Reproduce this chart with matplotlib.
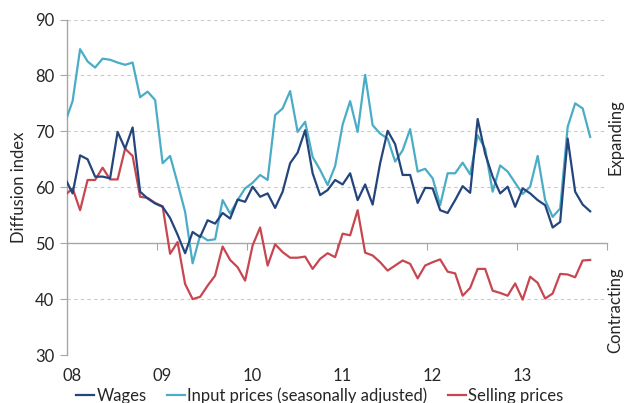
import matplotlib

matplotlib.use("Agg")

import matplotlib.pyplot as plt
import numpy as np


# monthly observations, first point late Dec 2007 / Jan 2008
START_YEAR = 2008
WAGES = [
    61.6, 58.9, 65.7, 65.0, 61.9, 61.9, 61.6, 69.9, 66.9, 70.7,
    59.2, 58.0, 57.1, 56.5, 54.5, 51.5, 48.2, 52.0, 51.1, 54.1,
    53.5, 55.4, 54.4, 57.8, 57.4, 60.1, 58.3, 58.9, 56.3, 59.2,
    64.3, 66.2, 70.2, 62.5, 58.6, 59.5, 61.3, 60.5, 62.5, 57.7,
    60.5, 56.9, 64.3, 70.1, 67.7, 62.2, 62.2, 57.2, 59.9, 59.8,
    55.9, 55.4, 57.7, 60.2, 59.0, 72.2, 66.0, 61.9, 58.9, 60.1,
    56.5, 59.8, 58.9, 57.7, 56.8, 52.8, 53.8, 68.7, 59.2, 56.9,
    55.7,
]
INPUT_PRICES = [
    71.6, 75.4, 84.7, 82.5, 81.4, 83.0, 82.8, 82.3, 81.9, 82.3,
    76.1, 77.1, 75.6, 64.3, 65.6, 60.7, 55.6, 46.4, 51.4, 50.5,
    50.7, 57.7, 55.3, 57.7, 59.8, 60.8, 62.2, 61.3, 72.9, 74.1,
    77.2, 69.9, 71.7, 65.4, 63.1, 60.4, 63.8, 71.2, 75.4, 69.9,
    80.1, 71.1, 69.6, 68.7, 64.6, 66.6, 70.4, 62.8, 63.3, 61.6,
    56.8, 62.5, 62.5, 64.4, 62.3, 69.3, 66.9, 59.2, 63.9, 62.8,
    60.8, 58.8, 60.1, 65.6, 57.7, 54.7, 56.2, 70.8, 75.0, 74.1,
    69.0,
]
SELLING_PRICES = [
    58.6, 59.8, 55.9, 61.3, 61.3, 63.5, 61.4, 61.4, 66.9, 65.6,
    58.3, 58.1, 57.2, 56.6, 48.1, 50.2, 42.7, 40.0, 40.4, 42.4,
    44.2, 49.4, 47.0, 45.7, 43.3, 49.6, 52.8, 46.0, 49.8, 48.4,
    47.4, 47.4, 47.6, 45.4, 47.2, 48.2, 47.5, 51.7, 51.4, 55.9,
    48.3, 47.8, 46.6, 45.1, 46.0, 46.9, 46.3, 43.7, 46.0, 46.6,
    47.1, 44.9, 44.6, 40.6, 42.0, 45.4, 45.4, 41.5, 41.1, 40.6,
    42.8, 39.9, 44.0, 42.9, 40.1, 41.0, 44.5, 44.4, 43.9, 46.9,
    47.0,
]
YEARS = [2008, 2009, 2010, 2011, 2012, 2013]
YEAR_LABELS = ["08", "09", "10", "11", "12", "13"]
Y_TICKS = [30, 40, 50, 60, 70, 80, 90]

colors = {
    "wages": "#24457c",
    "input": "#4bacc6",
    "selling": "#c8464f",
    "grid": "#c9c9c9",
    "axis": "#a6a6a6",
    "text": "#262626",
}

plt.rcParams.update({"font.family": ["Lato", "DejaVu Sans"], "font.size": 12})

fig = plt.figure(figsize=(6.33, 4.03), dpi=100)
ax = fig.add_axes([0.1058, 0.1191, 0.8532, 0.8325])

n = len(WAGES)
x = START_YEAR + (np.arange(n) - 0.25) / 12

ax.plot(x, WAGES, color=colors["wages"], lw=1.6, label="Wages", zorder=4)
ax.plot(x, INPUT_PRICES, color=colors["input"], lw=1.6,
        label="Input prices (seasonally adjusted)", zorder=3)
ax.plot(x, SELLING_PRICES, color=colors["selling"], lw=1.6,
        label="Selling prices", zorder=3)

ax.set_xlim(2008, 2014)
ax.set_ylim(30, 90)
ax.set_yticks(Y_TICKS)
for v in Y_TICKS:
    if v != 50:
        ax.axhline(v, color=colors["grid"], lw=0.8, ls=(0, (3, 3)), zorder=1)

# x axis sits on the 50 line, labels stay at the bottom
ax.spines["bottom"].set_position(("data", 50))
ax.spines["bottom"].set_color(colors["axis"])
ax.spines["bottom"].set_linewidth(1.0)
ax.set_xticks(YEARS[1:] + [2014])
ax.tick_params(axis="x", direction="out", length=5, color=colors["axis"], labelbottom=False)

sec = ax.secondary_xaxis("bottom")
sec.set_xticks([yr + 0.055 for yr in YEARS])
sec.set_xticklabels(YEAR_LABELS)
sec.tick_params(length=0, pad=9, labelsize=12, labelcolor=colors["text"])
sec.spines["bottom"].set_visible(False)

ax.spines["left"].set_color(colors["axis"])
ax.spines["left"].set_linewidth(1.0)
ax.spines["top"].set_visible(False)
ax.spines["right"].set_visible(False)
ax.tick_params(axis="y", direction="out", length=5, color=colors["axis"],
               labelsize=12, labelcolor=colors["text"], pad=4)

ax.set_ylabel("Diffusion index", fontsize=12, color=colors["text"], labelpad=6)

fig.text(0.972, 0.66, "Expanding", rotation=90, ha="center", va="center",
         fontsize=12, color=colors["text"])
fig.text(0.972, 0.23, "Contracting", rotation=90, ha="center", va="center",
         fontsize=12, color=colors["text"])

fig.legend(loc="center", bbox_to_anchor=(0.505, 0.019), ncol=3, frameon=False,
           handlelength=1.1, handletextpad=0.15, columnspacing=1.2, fontsize=12,
           labelcolor=colors["text"], borderpad=0.2)

fig.savefig("out.png", dpi=100)
